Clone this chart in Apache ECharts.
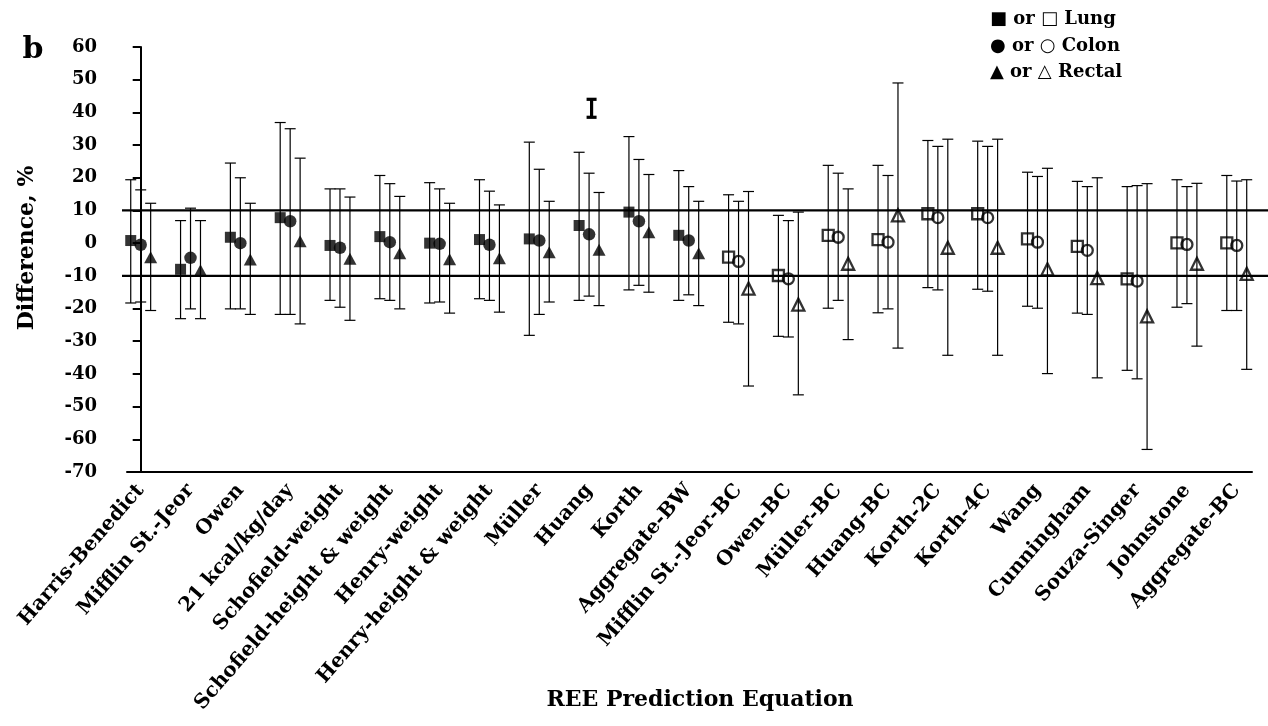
<!DOCTYPE html>
<html><head><meta charset="utf-8">
<script src="https://cdn.jsdelivr.net/npm/echarts@6/dist/echarts.min.js"></script>
<style>html,body{margin:0;padding:0;background:#fff}#c{width:1268px;height:726px}</style>
</head><body><div id="c"></div>
<script>
const categories = ['Harris-Benedict','Mifflin St.-Jeor','Owen','21 kcal/kg/day','Schofield-weight','Schofield-height & weight','Henry-weight','Henry-height & weight','Müller','Huang','Korth','Aggregate-BW','Mifflin St.-Jeor-BC','Owen-BC','Müller-BC','Huang-BC','Korth-2C','Korth-4C','Wang','Cunningham','Souza-Singer','Johnstone','Aggregate-BC'];
const nFilled = 12; // first 12 equations drawn with filled markers, rest open
const lungMean  = [0.8,-8.0,1.8,7.8,-0.7,2.0,0.0,1.1,1.3,5.4,9.5,2.4,-4.3,-9.9,2.4,1.1,9.0,9.0,1.3,-1.0,-10.9,0.1,0.1];
const lungHigh  = [19.4,6.9,24.5,36.9,16.6,20.7,18.5,19.4,30.9,27.8,32.6,22.2,14.8,8.5,23.8,23.8,31.4,31.2,21.7,18.9,17.3,19.4,20.7];
const lungLow   = [-18.3,-23.1,-20.1,-21.8,-17.5,-17.0,-18.3,-17.0,-28.2,-17.5,-14.3,-17.5,-24.2,-28.5,-19.9,-21.3,-13.6,-14.1,-19.3,-21.4,-38.9,-19.6,-20.6];
const colonMean = [-0.5,-4.5,0.0,6.7,-1.4,0.3,-0.2,-0.5,0.8,2.7,6.7,0.8,-5.6,-10.9,1.8,0.3,7.8,7.8,0.3,-2.2,-11.6,-0.4,-0.7];
const colonHigh = [16.3,10.7,20.0,35.0,16.6,18.2,16.6,15.9,22.6,21.4,25.6,17.3,12.8,6.9,21.4,20.7,29.6,29.6,20.4,17.3,17.6,17.3,19.0];
const colonLow  = [-18.0,-20.1,-20.1,-21.8,-19.6,-17.5,-18.0,-17.5,-21.8,-16.2,-12.9,-15.8,-24.7,-28.7,-17.5,-20.1,-14.3,-14.7,-19.9,-21.8,-41.5,-18.5,-20.6];
const rectalMean= [-4.3,-8.3,-5.0,0.6,-4.8,-3.1,-4.9,-4.6,-2.8,-2.0,3.3,-3.1,-13.9,-18.8,-6.3,8.5,-1.4,-1.4,-8.0,-10.7,-22.4,-6.3,-9.4];
const rectalHigh= [12.2,6.9,12.2,26.0,14.1,14.3,12.2,11.7,12.8,15.5,21.0,12.8,15.8,9.5,16.6,49.0,31.8,31.8,22.9,20.0,18.2,18.3,19.4];
const rectalLow = [-20.6,-23.1,-21.8,-24.7,-23.6,-20.1,-21.4,-21.1,-18.0,-19.1,-15.0,-19.1,-43.7,-46.4,-29.5,-32.1,-34.3,-34.3,-39.9,-41.2,-63.1,-31.5,-38.6];
const strayBar = [[9.05, 38.5, 44]]; // isolated short error bar above Huang
const refLevels = [10, -10];
const yTicks = {min:-70, max:60, step:10};

const FONT = 'DejaVu Serif';
const offsets = {lung:-0.2, colon:0, rectal:0.2};

function barGroup(api, lw, capW){
  const x = api.value(0);
  const lo = api.coord([x, api.value(1)]);
  const hi = api.coord([x, api.value(2)]);
  const st = {stroke:'#000', lineWidth:lw};
  return {type:'group', children:[
    {type:'line', shape:{x1:hi[0],y1:hi[1],x2:lo[0],y2:lo[1]}, style:st},
    {type:'line', shape:{x1:hi[0]-capW,y1:hi[1],x2:hi[0]+capW,y2:hi[1]}, style:st},
    {type:'line', shape:{x1:lo[0]-capW,y1:lo[1],x2:lo[0]+capW,y2:lo[1]}, style:st}
  ]};
}
function errSeries(off, low, high){
  return {
    type:'custom', xAxisIndex:0, yAxisIndex:0, silent:true, z:2,
    data: low.map((l,i)=>[i+off, l, high[i]]),
    encode:{x:0, y:[1,2]},
    renderItem:(params, api)=>barGroup(api, 1.2, 5.5)
  };
}
function pts(arr, off, from, to){
  return arr.map((v,i)=>[i+off, v]).slice(from, to);
}
function scat(data, symbol, size, open){
  return {
    type:'scatter', xAxisIndex:0, yAxisIndex:0, z:5, silent:true,
    symbol, symbolSize:size, data,
    itemStyle: open ? {color:'rgba(255,255,255,0)', borderColor:'#000', borderWidth:2.3}
                    : {color:'#000', borderWidth:0}
  };
}
const N = categories.length;
const series = [
  errSeries(offsets.lung, lungLow, lungHigh),
  errSeries(offsets.colon, colonLow, colonHigh),
  errSeries(offsets.rectal, rectalLow, rectalHigh),
  {
    type:'custom', xAxisIndex:0, yAxisIndex:0, silent:true, z:3,
    data: strayBar, encode:{x:0,y:[1,2]},
    renderItem:(params, api)=>barGroup(api, 3.2, 5)
  },
  scat(pts(lungMean, offsets.lung, 0, nFilled), 'rect', 11, false),
  scat(pts(colonMean, offsets.colon, 0, nFilled), 'circle', 12.5, false),
  scat(pts(rectalMean, offsets.rectal, 0, nFilled), 'triangle', [13,12], false),
  scat(pts(lungMean, offsets.lung, nFilled, N), 'rect', 11, true),
  scat(pts(colonMean, offsets.colon, nFilled, N), 'circle', 11, true),
  scat(pts(rectalMean, offsets.rectal, nFilled, N), 'triangle', [12,12], true),
];
refLevels.forEach(v=>{
  series.push({type:'line', xAxisIndex:1, yAxisIndex:1, silent:true, symbol:'none', z:1,
    data:[[0,v],[1,v]], lineStyle:{color:'#000', width:2.2}});
});

const chart = echarts.init(document.getElementById('c'), null, {renderer:'canvas'});
chart.setOption({
  animation:false,
  backgroundColor:'#fff',
  grid:[
    {left:127, right:16, top:47, bottom:254},
    {left:122, right:0, top:47, bottom:254}
  ],
  xAxis:[
    {type:'value', gridIndex:0, min:-0.275, max:22.306,
     axisLine:{show:true, onZero:false, lineStyle:{color:'#000', width:2}},
     axisTick:{show:false}, splitLine:{show:false},
     axisLabel:{customValues: categories.map((c,i)=>i), formatter:v=>categories[Math.round(v)],
       rotate:49, margin:15, color:'#000', fontFamily:FONT, fontWeight:'bold', fontSize:20}},
    {type:'value', gridIndex:1, min:0, max:1, show:false}
  ],
  yAxis:[
    {type:'value', gridIndex:0, min:yTicks.min, max:yTicks.max, interval:yTicks.step,
     axisLine:{show:true, lineStyle:{color:'#000', width:2}},
     axisTick:{show:true, inside:false, length:8, lineStyle:{color:'#000', width:2}},
     splitLine:{show:false},
     axisLabel:{margin:30, color:'#000', fontFamily:FONT, fontWeight:'bold', fontSize:18}},
    {type:'value', gridIndex:1, min:yTicks.min, max:yTicks.max, show:false}
  ],
  series,
  graphic:[
    {type:'text', x:27, y:248, rotation:Math.PI/2, style:{text:'Difference, %', fontFamily:FONT, fontWeight:'bold', fontSize:22, fill:'#000', align:'center', verticalAlign:'middle'}},
    {type:'text', x:700, y:700, style:{text:'REE Prediction Equation', fontFamily:FONT, fontWeight:'bold', fontSize:22, fill:'#000', align:'center', verticalAlign:'middle'}},
    {type:'text', x:33, y:50, style:{text:'b', fontFamily:FONT, fontWeight:'bold', fontSize:30, fill:'#000', align:'center', verticalAlign:'middle'}},
    {type:'text', x:990, y:19, style:{text:'■ or □ Lung', fontFamily:FONT, fontWeight:'bold', fontSize:18, fill:'#000', align:'left', verticalAlign:'middle'}},
    {type:'text', x:990, y:46, style:{text:'● or ○ Colon', fontFamily:FONT, fontWeight:'bold', fontSize:18, fill:'#000', align:'left', verticalAlign:'middle'}},
    {type:'text', x:990, y:72, style:{text:'▲ or △ Rectal', fontFamily:FONT, fontWeight:'bold', fontSize:18, fill:'#000', align:'left', verticalAlign:'middle'}}
  ]
});
</script></body></html>
